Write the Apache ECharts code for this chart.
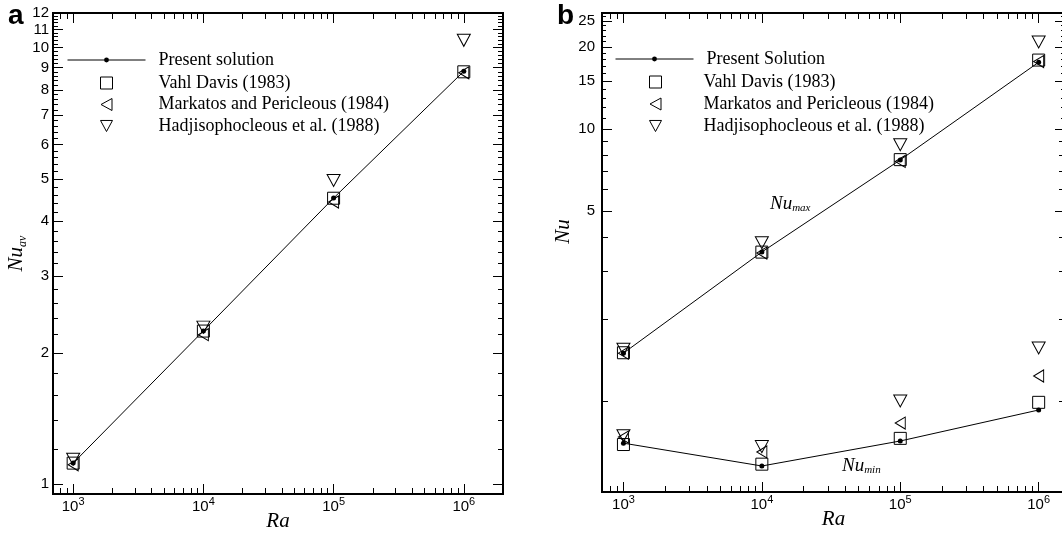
<!DOCTYPE html>
<html>
<head>
<meta charset="utf-8">
<title>Nu vs Ra</title>
<script src="https://cdn.jsdelivr.net/npm/echarts@6/dist/echarts.min.js"></script>
<style>
  html, body, #chart { width: 100%; height: 100%; margin: 0; padding: 0; overflow: hidden; background: #fff; }
</style>
</head>
<body>
<div id="chart"></div>
<script>
// Rayleigh numbers
var ra = [1e3, 1e4, 1e5, 1e6];

// (a) average Nusselt number
var nuAvPresent  = [1.118, 2.245, 4.522, 8.825];
var nuAvVahl     = [1.118, 2.243, 4.519, 8.800];
var nuAvMarkatos = [1.108, 2.201, 4.430, 8.754];
var nuAvHadji    = [1.141, 2.290, 4.964, 10.39];

// (b) maximum and minimum Nusselt number
var nuMaxPresent  = [1.50, 3.53, 7.70, 17.6];
var nuMaxVahl     = [1.505, 3.528, 7.717, 17.925];
var nuMaxMarkatos = [1.50, 3.50, 7.60, 17.7];
var nuMaxHadji    = [1.55, 3.82, 8.75, 20.9];
var nuMinPresent  = [0.700, 0.577, 0.713, 0.927];
var nuMinVahl     = [0.692, 0.586, 0.729, 0.989];
var nuMinMarkatos = [0.737, 0.650, 0.830, 1.236];
var nuMinHadji    = [0.745, 0.680, 1.000, 1.566];

// tick values
var raMajor = [1e3, 1e4, 1e5, 1e6];
var raMinor = [800, 900];
[1e3, 1e4, 1e5].forEach(function (d) {
  for (var k = 2; k <= 9; k++) raMinor.push(k * d);
});
raMinor.push(2e6);

var nuAvMajor = [1, 2, 3, 4, 5, 6, 7, 8, 9, 10, 11, 12];
var nuAvMinor = [];
for (var i = 1; i < 12; i++) {
  [0.2, 0.4, 0.6, 0.8].forEach(function (f) { nuAvMinor.push(+(i + f).toFixed(1)); });
}

var nuMajor = [5, 10, 15, 20, 25];
var nuMid = [1, 2, 3, 4, 6, 7, 8, 9];
var nuSmall = [11, 12, 13, 14, 16, 17, 18, 19, 21, 22, 23, 24, 26];

var SANS = 'Liberation Sans, Arial, sans-serif';
var SERIF = 'Liberation Serif, Times New Roman, serif';

var chart = echarts.init(document.getElementById('chart'));

var xAxes = [];
var yAxes = [];

// one axis carrying one set of ticks; several are stacked to get long and short ticks
function tickAxis(list, grid, pos, range, ticks, len, extra) {
  var ax = {
    type: 'log', logBase: 10, gridIndex: grid, position: pos,
    min: range[0], max: range[1],
    axisLine: { show: true, onZero: false, lineStyle: { color: '#000', width: 2 } },
    axisTick: { show: true, inside: true, length: len, customValues: ticks, lineStyle: { color: '#000', width: 1 } },
    axisLabel: { show: false },
    splitLine: { show: false },
    minorTick: { show: false },
    minorSplitLine: { show: false }
  };
  if (extra) Object.assign(ax, extra);
  list.push(ax);
  return list.length - 1;
}

var raLabel = {
  show: true, customValues: raMajor, margin: 2, color: '#000',
  formatter: function (v) { return '{b|10}{s|' + Math.round(Math.log10(v)) + '}'; },
  rich: {
    b: { fontSize: 15, fontFamily: SANS, color: '#000', verticalAlign: 'bottom' },
    s: { fontSize: 11, fontFamily: SANS, color: '#000', verticalAlign: 'bottom', padding: [0, 0, 7, 0] }
  }
};
var raName = {
  name: 'Ra', nameLocation: 'middle', nameGap: 17, nameMoveOverlap: false,
  nameTextStyle: { fontFamily: SERIF, fontStyle: 'italic', fontSize: 21, color: '#000' }
};

// ---- panel a ----
var xRangeA = [700, 2e6];
var yRangeA = [0.95, 12];
var xa = tickAxis(xAxes, 0, 'bottom', xRangeA, raMajor, 10,
  Object.assign({ axisLabel: raLabel }, raName));
tickAxis(xAxes, 0, 'bottom', xRangeA, raMinor, 6);
tickAxis(xAxes, 0, 'top', xRangeA, raMajor, 10);
tickAxis(xAxes, 0, 'top', xRangeA, raMinor, 6);

var ya = tickAxis(yAxes, 0, 'left', yRangeA, nuAvMajor, 10, {
  axisLabel: { show: true, customValues: nuAvMajor, margin: 4, color: '#000', fontSize: 15, fontFamily: SANS },
  name: '{n|Nu}{s|av}', nameLocation: 'middle', nameGap: 16,
  nameTextStyle: {
    color: '#000',
    rich: {
      n: { fontFamily: SERIF, fontStyle: 'italic', fontSize: 21, color: '#000', verticalAlign: 'top' },
      s: { fontFamily: SERIF, fontStyle: 'italic', fontSize: 12, color: '#000', verticalAlign: 'top', padding: [10, 0, 0, 0] }
    }
  }
});
tickAxis(yAxes, 0, 'left', yRangeA, nuAvMinor, 5);
tickAxis(yAxes, 0, 'right', yRangeA, nuAvMajor, 10);
tickAxis(yAxes, 0, 'right', yRangeA, nuAvMinor, 5);

// ---- panel b ----
var xRangeB = [700, 1.55e6];
var yRangeB = [0.463, 26.7];
var xb = tickAxis(xAxes, 1, 'bottom', xRangeB, raMajor, 10,
  Object.assign({ axisLabel: raLabel }, raName));
tickAxis(xAxes, 1, 'bottom', xRangeB, raMinor, 6);
tickAxis(xAxes, 1, 'top', xRangeB, raMajor, 10);
tickAxis(xAxes, 1, 'top', xRangeB, raMinor, 6);

var yb = tickAxis(yAxes, 1, 'left', yRangeB, nuMajor, 10, {
  axisLabel: { show: true, customValues: nuMajor, margin: 7, color: '#000', fontSize: 15, fontFamily: SANS },
  name: 'Nu', nameLocation: 'middle', nameGap: 19,
  nameTextStyle: { fontFamily: SERIF, fontStyle: 'italic', fontSize: 21, color: '#000', padding: [0, 0, 0, 42] }
});
tickAxis(yAxes, 1, 'left', yRangeB, nuMid, 6);
tickAxis(yAxes, 1, 'left', yRangeB, nuSmall, 4);
tickAxis(yAxes, 1, 'right', yRangeB, nuMajor, 10);
tickAxis(yAxes, 1, 'right', yRangeB, nuMid, 6);
tickAxis(yAxes, 1, 'right', yRangeB, nuSmall, 4);

function pairs(ys) { return ra.map(function (x, i) { return [x, ys[i]]; }); }

var SQUARE = 'rect';
var TRI_LEFT = 'path://M11,0L11,12L0,6Z';
var TRI_DOWN = 'path://M0,0L13,0L6.5,12Z';

function presentLine(name, xi, yi, ys) {
  return {
    type: 'line', name: name, xAxisIndex: xi, yAxisIndex: yi, data: pairs(ys),
    symbol: 'circle', symbolSize: 5, showSymbol: true,
    itemStyle: { color: '#000' }, lineStyle: { color: '#000', width: 1 },
    emphasis: { disabled: true }, silent: true, z: 3
  };
}
function refPoints(name, xi, yi, ys, symbol, size) {
  return {
    type: 'scatter', name: name, xAxisIndex: xi, yAxisIndex: yi, data: pairs(ys),
    symbol: symbol, symbolSize: size,
    itemStyle: { color: 'rgba(0,0,0,0)', borderColor: '#000', borderWidth: 1, opacity: 1 },
    emphasis: { disabled: true }, silent: true, z: 4
  };
}

var series = [
  presentLine('Present solution', xa, ya, nuAvPresent),
  refPoints('Vahl Davis (1983)', xa, ya, nuAvVahl, SQUARE, 12),
  refPoints('Markatos and Pericleous (1984)', xa, ya, nuAvMarkatos, TRI_LEFT, [10, 12]),
  refPoints('Hadjisophocleous et al. (1988)', xa, ya, nuAvHadji, TRI_DOWN, [13, 12]),

  presentLine('Present Solution', xb, yb, nuMaxPresent),
  presentLine('Present Solution', xb, yb, nuMinPresent),
  refPoints('Vahl Davis (1983)', xb, yb, nuMaxVahl, SQUARE, 12),
  refPoints('Vahl Davis (1983)', xb, yb, nuMinVahl, SQUARE, 12),
  refPoints('Markatos and Pericleous (1984)', xb, yb, nuMaxMarkatos, TRI_LEFT, [10, 12]),
  refPoints('Markatos and Pericleous (1984)', xb, yb, nuMinMarkatos, TRI_LEFT, [10, 12]),
  refPoints('Hadjisophocleous et al. (1988)', xb, yb, nuMaxHadji, TRI_DOWN, [13, 12]),
  refPoints('Hadjisophocleous et al. (1988)', xb, yb, nuMinHadji, TRI_DOWN, [13, 12])
];

var legendText = { fontFamily: SERIF, fontSize: 18, color: '#000' };
function legendLine(name, left, top) {
  return {
    data: [name], orient: 'vertical', left: left, top: top, padding: 0,
    itemWidth: 78, itemHeight: 6, selectedMode: false,
    lineStyle: { width: 1, color: '#000' },
    textStyle: Object.assign({ padding: [0, 0, 0, 8] }, legendText)
  };
}
function legendMarks(left, top, gap, pad) {
  return {
    data: ['Vahl Davis (1983)', 'Markatos and Pericleous (1984)', 'Hadjisophocleous et al. (1988)'],
    orient: 'vertical', left: left, top: top, padding: 0,
    itemWidth: 12, itemHeight: 12, itemGap: gap, selectedMode: false,
    itemStyle: { color: 'rgba(0,0,0,0)', borderColor: '#000', borderWidth: 1 },
    textStyle: Object.assign({ padding: [0, 0, 0, pad] }, legendText)
  };
}

var subText = function (x, y, sub) {
  return {
    type: 'text', left: x, top: y, silent: true,
    style: {
      text: '{n|Nu}{s|' + sub + '}',
      rich: {
        n: { fontFamily: SERIF, fontStyle: 'italic', fontSize: 19, fill: '#000', verticalAlign: 'top' },
        s: { fontFamily: SERIF, fontStyle: 'italic', fontSize: 11, fill: '#000', verticalAlign: 'top', padding: [9, 0, 0, 0] }
      }
    }
  };
};

chart.setOption({
  animation: false,
  backgroundColor: '#fff',
  grid: [
    { left: 53, top: 13, width: 450, height: 481, containLabel: false, outerBoundsMode: 'none' },
    { left: 602, top: 13, width: 463, height: 479, containLabel: false, outerBoundsMode: 'none' }
  ],
  xAxis: xAxes,
  yAxis: yAxes,
  legend: [
    legendLine('Present solution', 67, 51),
    legendMarks(100, 74, 3.5, 41),
    legendLine('Present Solution', 615, 50),
    legendMarks(649, 73, 4, 37)
  ],
  graphic: [
    { type: 'text', left: 8, top: 2, style: { text: 'a', font: 'bold 28px ' + SANS, fill: '#000' } },
    { type: 'text', left: 557, top: 2, style: { text: 'b', font: 'bold 28px ' + SANS, fill: '#000' } },
    subText(770, 194, 'max'),
    subText(842, 456, 'min')
  ],
  series: series
});
</script>
</body>
</html>
